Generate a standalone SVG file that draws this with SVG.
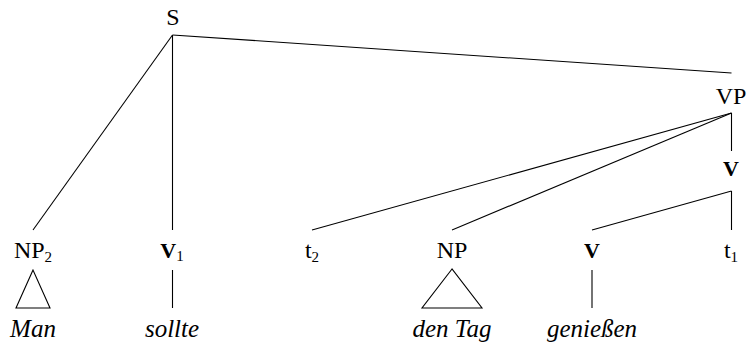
<svg xmlns="http://www.w3.org/2000/svg" width="750" height="349" viewBox="0 0 750 349">
<style>
.lbl{font-family:"Liberation Serif","Times New Roman",serif;font-size:24px;fill:#000;text-anchor:middle}
.bar{font-family:"Liberation Serif","Times New Roman",serif;font-size:22px;font-weight:bold;fill:#000;text-anchor:middle}
.leaf{font-family:"Liberation Serif","Times New Roman",serif;font-size:25px;font-style:italic;fill:#000;text-anchor:middle}
.sub{font-size:15px}
.e{stroke:#000;stroke-width:1.1;fill:none}
</style>
<rect width="750" height="349" fill="#fff"/>
<g id="connectors">
<line class="e" x1="172.5" y1="35" x2="33" y2="230"/>
<line class="e" x1="172.5" y1="35" x2="172.5" y2="230"/>
<line class="e" x1="172.5" y1="35" x2="731.5" y2="73"/>
<line class="e" x1="731.5" y1="113" x2="312" y2="230"/>
<line class="e" x1="731.5" y1="113" x2="452" y2="230"/>
<line class="e" x1="731.5" y1="113" x2="731.5" y2="151"/>
<line class="e" x1="731.5" y1="191" x2="592" y2="230"/>
<line class="e" x1="731.5" y1="191" x2="731.5" y2="230"/>
<polygon class="e" points="33,270 16,308 50,308"/>
<line class="e" x1="172.5" y1="270" x2="172.5" y2="308"/>
<polygon class="e" points="452,269 422,308 482,308"/>
<line class="e" x1="592" y1="270" x2="592" y2="308"/>
</g>
<g id="S"><text class="lbl" x="173" y="25">S</text></g>
<g id="VP"><text class="lbl" x="731" y="104">VP</text></g>
<g id="Vbar"><text class="bar" x="731" y="176">V</text></g>
<g id="NP2"><text class="lbl" x="33" y="258">NP<tspan class="sub" dy="4">2</tspan></text></g>
<g id="V1"><text class="bar" x="172" y="258">V<tspan class="sub" dy="3" font-weight="normal">1</tspan></text></g>
<g id="t2"><text class="lbl" x="312" y="258">t<tspan class="sub" dy="4">2</tspan></text></g>
<g id="NP"><text class="lbl" x="452" y="258">NP</text></g>
<g id="V"><text class="bar" x="592" y="258">V</text></g>
<g id="t1"><text class="lbl" x="731" y="258">t<tspan class="sub" dy="4">1</tspan></text></g>
<g id="Man"><text class="leaf" x="33" y="337">Man</text></g>
<g id="sollte"><text class="leaf" x="172" y="337">sollte</text></g>
<g id="denTag"><text class="leaf" x="452" y="337">den Tag</text></g>
<g id="geniessen"><text class="leaf" x="592" y="337">genießen</text></g>
</svg>
